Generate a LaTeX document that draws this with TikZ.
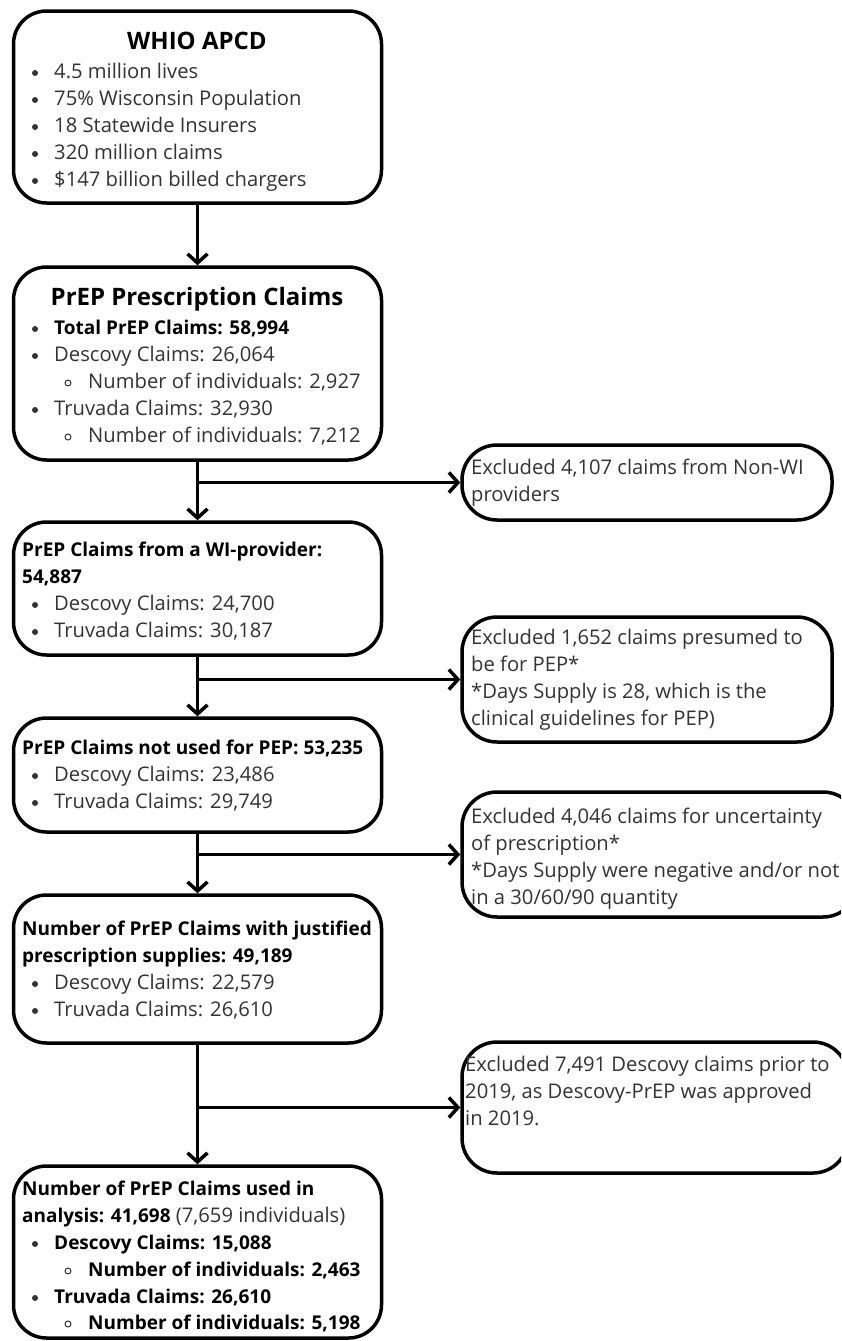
\documentclass[tikz,border=0pt]{standalone}
\usepackage{fontspec}
\setmainfont{Open Sans}
\usetikzlibrary{arrows.meta}
\definecolor{txt}{HTML}{333333}
\newcommand\mybul[2]{\fill[txt] (#1,#2) circle (3pt);}
\newcommand\mysub[2]{\draw[txt,line width=1pt] (#1,#2) circle (3pt);}
\begin{document}
\begin{tikzpicture}[x=1pt,y=-1pt,
 box/.style={draw=black, line width=3.5pt, rounded corners=33pt, inner sep=0pt, fill=white},
 conn/.style={line width=3.5pt, -{Straight Barb[length=9pt,width=20pt,line width=3.5pt]}},
 ln/.style={anchor=base west, inner sep=0pt, font=\fontsize{20.2}{27}\selectfont, text=txt},
 bl/.style={anchor=base west, inner sep=0pt, font=\fontsize{19}{27}\selectfont\bfseries, text=black},
 ttl/.style={anchor=base, inner sep=0pt, font=\fontsize{24}{28}\selectfont\bfseries, text=black},
]
\useasboundingbox[fill=white] (0,0) rectangle (841,1341);
\clip (0,0) rectangle (841,1341);
% main boxes
\node[box, minimum width=368pt, minimum height=192pt] (b1) at (197.5,107) {};
\node[box, minimum width=368pt, minimum height=193pt] (b2) at (197.5,363.5) {};
\node[box, minimum width=368pt, minimum height=133pt] (b3) at (197.5,588.5) {};
\node[box, minimum width=368pt, minimum height=114pt] (b4) at (197.5,775) {};
\node[box, minimum width=368pt, minimum height=148pt] (b5) at (197.5,969) {};
\node[box, minimum width=368pt, minimum height=172pt] (b6) at (197.5,1252) {};
% side boxes
\node[box, rounded corners=35pt, minimum width=370pt, minimum height=75pt] (r1) at (647,482.5) {};
\node[box, rounded corners=35pt, minimum width=370pt, minimum height=125pt] (r2) at (647,679.5) {};
\node[box, rounded corners=35pt, minimum width=396pt, minimum height=125pt] (r3) at (660,854.5) {};
\node[box, rounded corners=35pt, minimum width=386pt, minimum height=131pt] (r4) at (655,1107.5) {};
% connectors
\draw[conn] (b1.south) -- (b2.north);
\draw[conn] (b2.south) -- (b3.north);
\draw[conn] (b3.south) -- (b4.north);
\draw[conn] (b4.south) -- (b5.north);
\draw[conn] (b5.south) -- (b6.north);
\coordinate (j1) at (b2.south |- r1.west);
\coordinate (j2) at (b3.south |- r2.west);
\coordinate (j3) at (b4.south |- r3.west);
\coordinate (j4) at (b5.south |- r4.west);
\draw[conn] (j1) -- (r1.west);
\draw[conn] (j2) -- (r2.west);
\draw[conn] (j3) -- (r3.west);
\draw[conn] (j4) -- (r4.west);
% box 1
\node[ttl] (t1) at (197,49.5) {WHIO APCD};
\node[ln] (t1a) at (54,78) {4.5 million lives};\mybul{35}{73}
\node[ln] (t1b) at (54,105) {75\% Wisconsin Population};\mybul{35}{100}
\node[ln] (t1c) at (54,132) {18 Statewide Insurers};\mybul{35}{127}
\node[ln] (t1d) at (54,159) {320 million claims};\mybul{35}{154}
\node[ln] (t1e) at (54,186) {\$147 billion billed chargers};\mybul{35}{181}
% box 2
\node[ttl] (t2) at (197,305.5) {PrEP Prescription Claims};
\node[bl] (t2a) at (54,334) {Total PrEP Claims: 58,994};\mybul{35}{329}
\node[ln] (t2b) at (54,361) {Descovy Claims: 26,064};\mybul{35}{356}
\node[ln] (t2c) at (88,388) {Number of individuals: 2,927};\mysub{68}{383}
\node[ln] (t2d) at (54,415) {Truvada Claims: 32,930};\mybul{35}{410}
\node[ln] (t2e) at (88,442) {Number of individuals: 7,212};\mysub{68}{437}
% box 3
\node[bl] (t3a) at (22,556) {PrEP Claims from a WI-provider:};
\node[bl] (t3b) at (22,583) {54,887};
\node[ln] (t3c) at (54,610) {Descovy Claims: 24,700};\mybul{35}{605}
\node[ln] (t3d) at (54,637) {Truvada Claims: 30,187};\mybul{35}{632}
% box 4
\node[bl] (t4a) at (22,754) {PrEP Claims not used for PEP: 53,235};
\node[ln] (t4b) at (54,781) {Descovy Claims: 23,486};\mybul{35}{776}
\node[ln] (t4c) at (54,808) {Truvada Claims: 29,749};\mybul{35}{803}
% box 5
\node[bl] (t5a) at (22,935) {Number of PrEP Claims with justified};
\node[bl] (t5b) at (22,962) {prescription supplies: 49,189};
\node[ln] (t5c) at (54,989) {Descovy Claims: 22,579};\mybul{35}{984}
\node[ln] (t5d) at (54,1016) {Truvada Claims: 26,610};\mybul{35}{1011}
% box 6
\node[bl] (t6a) at (22,1195) {Number of PrEP Claims used in};
\node[ln] (t6b) at (22,1222) {\textcolor{black}{\fontsize{19}{27}\selectfont\bfseries analysis: 41,698} (7,659 individuals)};
\node[bl] (t6c) at (54,1249) {Descovy Claims: 15,088};\mybul{35}{1244}
\node[bl] (t6d) at (88,1276) {Number of individuals: 2,463};\mysub{68}{1271}
\node[bl] (t6e) at (54,1303) {Truvada Claims: 26,610};\mybul{35}{1298}
\node[bl] (t6f) at (88,1329) {Number of individuals: 5,198};\mysub{68}{1324}
% side texts
\node[ln] (s1a) at (471,474) {Excluded 4,107 claims from Non-WI};
\node[ln] (s1b) at (471,501) {providers};
\node[ln] (s2a) at (471,644) {Excluded 1,652 claims presumed to};
\node[ln] (s2b) at (471,671) {be for PEP*};
\node[ln] (s2c) at (471,698) {*Days Supply is 28, which is the};
\node[ln] (s2d) at (471,725) {clinical guidelines for PEP)};
\node[ln] (s3a) at (471,823) {Excluded 4,046 claims for uncertainty};
\node[ln] (s3b) at (471,850) {of prescription*};
\node[ln] (s3c) at (471,877) {*Days Supply were negative and/or not};
\node[ln] (s3d) at (471,904) {in a 30/60/90 quantity};
\node[ln] (s4a) at (465,1071) {Excluded 7,491 Descovy claims prior to};
\node[ln] (s4b) at (465,1098) {2019, as Descovy-PrEP was approved};
\node[ln] (s4c) at (465,1125) {in 2019.};
\end{tikzpicture}
\end{document}
